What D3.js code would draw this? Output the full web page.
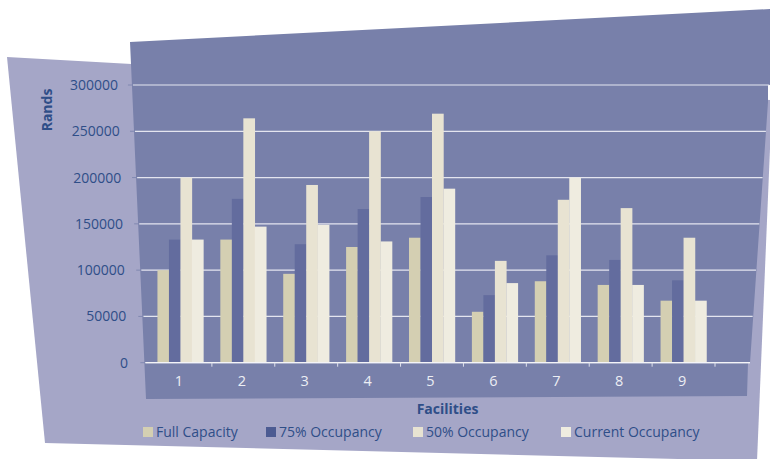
<!DOCTYPE html>
<html>
<head>
<meta charset="utf-8">
<script src="https://cdn.jsdelivr.net/npm/d3@7"></script>
<style>
    body { margin: 0; background: #fff; }
    svg { display: block; font-family: 'Open Sans', sans-serif; }
</style>
</head>
<body>
<svg id="chart"></svg>
<script>
// facilities on the x axis
const facilities = ['1', '2', '3', '4', '5', '6', '7', '8', '9'];
const seriesNames = ['Full Capacity', '75% Occupancy', '50% Occupancy', 'Current Occupancy'];

// values in Rands, one array per series
const fullCapacity = [100000, 133000, 96000, 125000, 135000, 55000, 88000, 84000, 67000];
const occupancy75 = [133000, 177000, 128000, 166000, 179000, 73000, 116000, 111000, 89000];
const occupancy50 = [200000, 264000, 192000, 250000, 269000, 110000, 176000, 167000, 135000];
const currentOccupancy = [133000, 147000, 149000, 131000, 188000, 86000, 200000, 84000, 67000];

const yTicks = [0, 50000, 100000, 150000, 200000, 250000, 300000];

const seriesValues = [fullCapacity, occupancy75, occupancy50, currentOccupancy];
const barColors = ['#d4cfb2', '#636c9e', '#e8e3d2', '#efece0'];
const legendColors = ['#d4cfb2', '#4c5b92', '#e8e3d2', '#efece0'];
const textColor = '#2f4e88';

const width = 770, height = 459;
const svg = d3.select('#chart').attr('width', width).attr('height', height);

// skewed backgrounds
svg.append('polygon')
    .attr('points', [[7, 57], [772, 100], [757, 461], [45, 443]].join(' '))
    .attr('fill', '#a5a6c7');

svg.append('polygon')
    .attr('points', [[130, 42], [771, 9], [771, 85], [768, 85], [768, 102], [750, 363], [748, 363], [747, 396], [146, 399]].join(' '))
    .attr('fill', '#7880aa');

// slanted panel edges
const leftEdge = y => 130 + (y - 42) * 0.0448;
const rightEdge = y => 768 - (y - 102) * 0.0715;
const labelEdge = y => 118 + (y - 85) * 0.036;

const y = d3.scaleLinear()
    .domain([0, 300000])
    .range([362.7, 85]);

const x0 = d3.scaleBand()
    .domain(facilities)
    .range([149, 715]);

const barsWidth = 46;
const x1 = d3.scaleBand()
    .domain(seriesNames)
    .range([(x0.bandwidth() - barsWidth) / 2, (x0.bandwidth() + barsWidth) / 2]);

// gridlines and y labels
const grid = svg.append('g');
grid.selectAll('line.grid')
    .data(yTicks)
    .join('line')
    .attr('class', 'grid')
    .attr('x1', d => leftEdge(y(d)) + 1)
    .attr('x2', d => d === 0 ? 750 : rightEdge(y(d)))
    .attr('y1', d => y(d))
    .attr('y2', d => y(d))
    .attr('stroke', '#e4e5ef')
    .attr('stroke-width', 1.2);

grid.selectAll('line.tick')
    .data(yTicks)
    .join('line')
    .attr('class', 'tick')
    .attr('x1', d => leftEdge(y(d)) - 4)
    .attr('x2', d => leftEdge(y(d)) + 1)
    .attr('y1', d => y(d))
    .attr('y2', d => y(d))
    .attr('stroke', '#8088b0')
    .attr('stroke-width', 1);

grid.selectAll('text')
    .data(yTicks)
    .join('text')
    .attr('x', d => labelEdge(y(d)))
    .attr('y', d => y(d))
    .attr('dy', '0.36em')
    .attr('text-anchor', 'end')
    .attr('font-size', 14)
    .attr('fill', textColor)
    .text(d => d);

// bars
const groups = svg.append('g')
    .selectAll('g')
    .data(facilities)
    .join('g')
    .attr('transform', d => `translate(${x0(d)},0)`);

groups.selectAll('rect')
    .data((d, i) => seriesNames.map((s, j) => ({ series: s, value: seriesValues[j][i], color: barColors[j] })))
    .join('rect')
    .attr('x', d => x1(d.series))
    .attr('width', x1.bandwidth() + 0.2)
    .attr('y', d => y(d.value))
    .attr('height', d => y(0) - y(d.value))
    .attr('fill', d => d.color);

// redraw zero line above bars
svg.append('line')
    .attr('x1', leftEdge(y(0)) + 1)
    .attr('x2', 750)
    .attr('y1', y(0))
    .attr('y2', y(0))
    .attr('stroke', '#f4f4f8')
    .attr('stroke-width', 1.2);

// x axis ticks and labels
const xAxis = svg.append('g');
xAxis.selectAll('line')
    .data(facilities)
    .join('line')
    .attr('x1', d => x0(d) + x0.bandwidth())
    .attr('x2', d => x0(d) + x0.bandwidth())
    .attr('y1', y(0))
    .attr('y2', y(0) + 4)
    .attr('stroke', '#dfe1ec');

xAxis.selectAll('text')
    .data(facilities)
    .join('text')
    .attr('x', d => x0(d) + x0.bandwidth() / 2 - 1.5)
    .attr('y', 386)
    .attr('text-anchor', 'middle')
    .attr('font-size', 14.5)
    .attr('fill', '#eceef4')
    .text(d => d);

// axis titles
svg.append('text')
    .attr('transform', 'translate(52,110) rotate(-90)')
    .attr('text-anchor', 'middle')
    .attr('font-size', 14)
    .attr('font-weight', 'bold')
    .attr('fill', textColor)
    .text('Rands');

svg.append('text')
    .attr('x', 447.5)
    .attr('y', 414)
    .attr('text-anchor', 'middle')
    .attr('font-size', 14)
    .attr('font-weight', 'bold')
    .attr('fill', textColor)
    .text('Facilities');

// legend, items spaced as in the original
const legendX = [143, 266, 413, 561];
const legend = svg.append('g');
seriesNames.forEach((name, i) => {
    legend.append('rect')
        .attr('x', legendX[i])
        .attr('y', 427)
        .attr('width', 10)
        .attr('height', 10)
        .attr('fill', legendColors[i]);
    legend.append('text')
        .attr('x', legendX[i] + 13)
        .attr('y', 437)
        .attr('font-size', 14)
        .attr('fill', textColor)
        .text(name);
});
</script>
</body>
</html>
